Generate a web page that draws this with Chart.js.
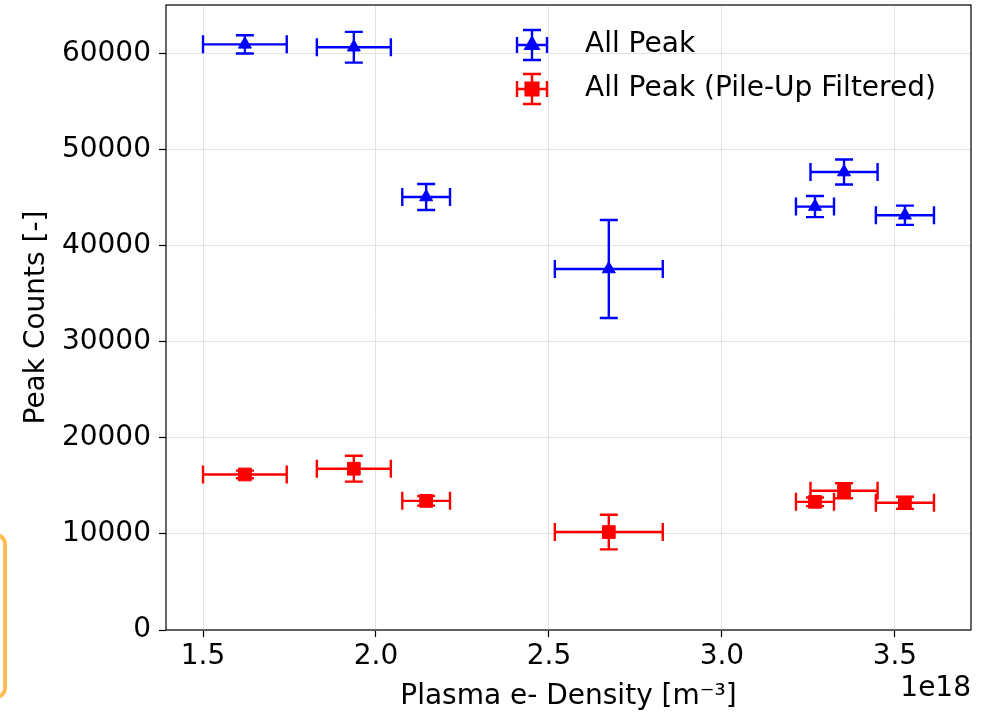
<!DOCTYPE html>
<html>
<head>
<meta charset="utf-8">
<script src="https://cdn.jsdelivr.net/npm/chart.js@4.4.1/dist/chart.umd.min.js"></script>
<style>
  html, body { margin: 0; padding: 0; background: #fff; }
  #wrap { position: relative; width: 998px; height: 717px; overflow: hidden; }
  #tag { position: absolute; left: -20px; top: 533px; width: 19px; height: 158px;
         border: 4px solid #fdbd55; border-radius: 11px; }
</style>
</head>
<body>
<div id="wrap">
  <canvas id="chart" width="998" height="717"></canvas>
  <div id="tag"></div>
</div>
<script>
  // plasma electron density, in units of 1e18 m^-3
  const density = [1.621, 1.936, 2.145, 2.673, 3.269, 3.353, 3.529];
  const densityErr = [0.121, 0.107, 0.069, 0.156, 0.055, 0.097, 0.084];

  const allPeak = [61000, 60700, 45100, 37600, 44100, 47700, 43200];
  const allPeakErr = [950, 1600, 1350, 5100, 1100, 1300, 1000];

  const filtered = [16200, 16800, 13450, 10200, 13350, 14500, 13250];
  const filteredErr = [400, 1350, 500, 1800, 450, 780, 630];

  const xTicks = [1.5, 2.0, 2.5, 3.0, 3.5];
  const yTicks = [0, 10000, 20000, 30000, 40000, 50000, 60000];

  const xTitle = "Plasma e- Density [m\u207B\u00B3]";
  const yTitle = "Peak Counts [-]";

  const FONT = "'DejaVu Sans', sans-serif";
  const CAP = 9;

  function points(ys, yErr) {
    return density.map((x, i) => ({ x: x, y: ys[i], xErr: densityErr[i], yErr: yErr[i] }));
  }

  const errorBars = {
    id: "errorBars",
    beforeDatasetsDraw(chart) {
      const ctx = chart.ctx;
      const xs = chart.scales.x;
      const ys = chart.scales.y;
      ctx.save();
      ctx.lineWidth = 2.4;
      chart.data.datasets.forEach((ds) => {
        ctx.strokeStyle = ds.borderColor;
        ds.data.forEach((p) => {
          const px = xs.getPixelForValue(p.x);
          const py = ys.getPixelForValue(p.y);
          const x0 = xs.getPixelForValue(p.x - p.xErr);
          const x1 = xs.getPixelForValue(p.x + p.xErr);
          const y0 = ys.getPixelForValue(p.y - p.yErr);
          const y1 = ys.getPixelForValue(p.y + p.yErr);
          ctx.beginPath();
          ctx.moveTo(x0, py); ctx.lineTo(x1, py);
          ctx.moveTo(px, y0); ctx.lineTo(px, y1);
          ctx.moveTo(x0, py - CAP); ctx.lineTo(x0, py + CAP);
          ctx.moveTo(x1, py - CAP); ctx.lineTo(x1, py + CAP);
          ctx.moveTo(px - CAP, y0); ctx.lineTo(px + CAP, y0);
          ctx.moveTo(px - CAP, y1); ctx.lineTo(px + CAP, y1);
          ctx.stroke();
        });
      });
      ctx.restore();
    },
    afterDraw(chart) {
      const ctx = chart.ctx;
      const a = chart.chartArea;
      ctx.save();
      // axes frame
      ctx.strokeStyle = "#000";
      ctx.lineWidth = 1.2;
      ctx.strokeRect(a.left, a.top, a.right - a.left, a.bottom - a.top);

      // legend
      const lx = 532;
      const rows = [45, 89];
      chart.data.datasets.forEach((ds, i) => {
        const ly = rows[i];
        ctx.strokeStyle = ds.borderColor;
        ctx.lineWidth = 2.4;
        ctx.beginPath();
        ctx.moveTo(lx - 15, ly); ctx.lineTo(lx + 15, ly);
        ctx.moveTo(lx, ly - 15); ctx.lineTo(lx, ly + 15);
        ctx.moveTo(lx - 15, ly - 8); ctx.lineTo(lx - 15, ly + 8);
        ctx.moveTo(lx + 15, ly - 8); ctx.lineTo(lx + 15, ly + 8);
        ctx.moveTo(lx - 9, ly - 15); ctx.lineTo(lx + 9, ly - 15);
        ctx.moveTo(lx - 9, ly + 15); ctx.lineTo(lx + 9, ly + 15);
        ctx.stroke();
        ctx.fillStyle = ds.backgroundColor;
        Chart.helpers.drawPoint(ctx, {
          pointStyle: ds.pointStyle, radius: ds.pointRadius, borderWidth: 1, rotation: 0
        }, lx, ly);
        ctx.fillStyle = "#000";
        ctx.font = "28px " + FONT;
        ctx.textAlign = "left";
        ctx.textBaseline = "middle";
        ctx.fillText(ds.label, 585, ly);
      });

      // axis titles and the offset text of the x axis
      ctx.fillStyle = "#000";
      ctx.font = "28px " + FONT;
      ctx.textBaseline = "middle";
      ctx.textAlign = "center";
      ctx.fillText(xTitle, (a.left + a.right) / 2, 697);
      ctx.textAlign = "right";
      ctx.fillText("1e18", a.right, 689);
      ctx.translate(37, (a.top + a.bottom) / 2);
      ctx.rotate(-Math.PI / 2);
      ctx.textAlign = "center";
      ctx.fillText(yTitle, 0, 0);
      ctx.restore();
    }
  };

  Chart.defaults.font.family = FONT;
  Chart.defaults.color = "#000";

  new Chart(document.getElementById("chart"), {
    type: "scatter",
    data: {
      datasets: [
        {
          label: "All Peak",
          data: points(allPeak, allPeakErr),
          pointStyle: "triangle",
          pointRadius: 7.5,
          borderWidth: 1,
          borderColor: "#0000ff",
          backgroundColor: "#0000ff"
        },
        {
          label: "All Peak (Pile-Up Filtered)",
          data: points(filtered, filteredErr),
          pointStyle: "rect",
          pointRadius: 9,
          borderWidth: 1,
          borderColor: "#ff0000",
          backgroundColor: "#ff0000"
        }
      ]
    },
    options: {
      responsive: false,
      devicePixelRatio: 1,
      animation: false,
      layout: { autoPadding: false, padding: { top: 5, right: 27, left: 0, bottom: 0 } },
      plugins: {
        legend: { display: false },
        tooltip: { enabled: false }
      },
      scales: {
        x: {
          type: "linear",
          min: 1.393,
          max: 3.72,
          afterFit: (s) => { s.height = 87; s.paddingLeft = 0; s.paddingRight = 0; },
          afterBuildTicks: (s) => { s.ticks = xTicks.map((v) => ({ value: v })); },
          ticks: {
            font: { size: 28 },
            padding: 3,
            maxRotation: 0,
            callback: (v) => Number(v).toFixed(1)
          },
          grid: { color: "#e3e3e3", lineWidth: 1, tickLength: 7, tickColor: "#000", tickWidth: 1.2 },
          border: { display: false }
        },
        y: {
          type: "linear",
          min: 0,
          max: 65100,
          afterFit: (s) => { s.width = 166; s.paddingTop = 0; s.paddingBottom = 0; },
          afterBuildTicks: (s) => { s.ticks = yTicks.map((v) => ({ value: v })); },
          ticks: {
            font: { size: 28 },
            padding: 8,
            callback: (v) => String(v)
          },
          grid: { color: "#e3e3e3", lineWidth: 1, tickLength: 7, tickColor: "#000", tickWidth: 1.2 },
          border: { display: false }
        }
      }
    },
    plugins: [errorBars]
  });
</script>
</body>
</html>
